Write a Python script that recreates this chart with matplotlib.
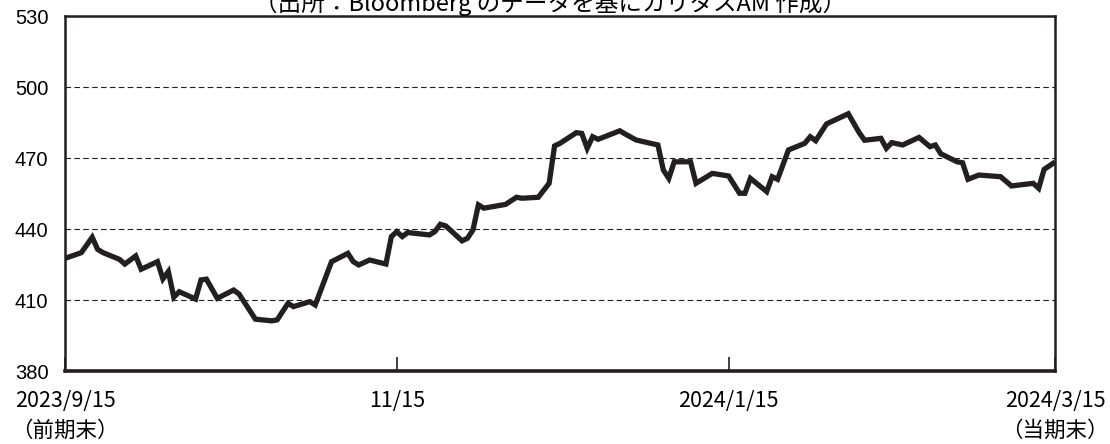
from datetime import date

import matplotlib
matplotlib.use("Agg")
from matplotlib import pyplot as plt

# values (date, index level)
dates = [
    "2023-09-15", "2023-09-18", "2023-09-20", "2023-09-21", "2023-09-22",
    "2023-09-25", "2023-09-26", "2023-09-28", "2023-09-29", "2023-10-02",
    "2023-10-03", "2023-10-04", "2023-10-05", "2023-10-06", "2023-10-09",
    "2023-10-10", "2023-10-11", "2023-10-13", "2023-10-16", "2023-10-17",
    "2023-10-20", "2023-10-23", "2023-10-24", "2023-10-26", "2023-10-27",
    "2023-10-30", "2023-10-31", "2023-11-03", "2023-11-06", "2023-11-07",
    "2023-11-08", "2023-11-10", "2023-11-13", "2023-11-14", "2023-11-15",
    "2023-11-16", "2023-11-17", "2023-11-21", "2023-11-22", "2023-11-23",
    "2023-11-24", "2023-11-27", "2023-11-28", "2023-11-29", "2023-11-30",
    "2023-12-01", "2023-12-05", "2023-12-07", "2023-12-08", "2023-12-11",
    "2023-12-13", "2023-12-14", "2023-12-15", "2023-12-18", "2023-12-19",
    "2023-12-20", "2023-12-21", "2023-12-22", "2023-12-26", "2023-12-27",
    "2023-12-29", "2024-01-02", "2024-01-03", "2024-01-04", "2024-01-05",
    "2024-01-08", "2024-01-09", "2024-01-12", "2024-01-15", "2024-01-17",
    "2024-01-18", "2024-01-19", "2024-01-22", "2024-01-23", "2024-01-24",
    "2024-01-26", "2024-01-29", "2024-01-30", "2024-01-31", "2024-02-02",
    "2024-02-06", "2024-02-08", "2024-02-09", "2024-02-12", "2024-02-13",
    "2024-02-14", "2024-02-16", "2024-02-19", "2024-02-21", "2024-02-22",
    "2024-02-23", "2024-02-26", "2024-02-27", "2024-02-28", "2024-03-01",
    "2024-03-05", "2024-03-07", "2024-03-11", "2024-03-12", "2024-03-13",
    "2024-03-15",
]
values = [
    427.6, 430.0, 436.5, 431.4, 430.0,
    427.2, 425.2, 428.6, 423.0, 426.2,
    418.9, 422.0, 411.2, 413.5, 410.4,
    418.5, 418.8, 410.7, 414.2, 412.5,
    401.9, 401.2, 401.6, 408.6, 407.2,
    409.3, 407.9, 426.2, 429.7, 426.2,
    424.8, 426.9, 425.2, 436.8, 438.9,
    436.8, 438.5, 437.5, 438.9, 442.0,
    441.3, 435.0, 436.1, 439.6, 450.2,
    448.8, 450.4, 453.4, 453.0, 453.4,
    459.3, 475.1, 476.2, 480.7, 480.4,
    474.1, 479.0, 477.9, 481.5, 480.1,
    477.6, 475.5, 464.9, 461.4, 468.4,
    468.4, 459.3, 463.5, 462.4, 455.1,
    455.1, 461.4, 455.8, 462.1, 461.0,
    473.4, 476.2, 479.0, 477.3, 484.4,
    488.7, 480.7, 477.5, 478.3, 474.1,
    476.5, 475.5, 478.7, 474.8, 475.5,
    471.8, 468.4, 468.0, 461.0, 462.8,
    462.1, 458.2, 459.3, 457.2, 465.2,
    468.3,
]

tick_dates = ["2023-09-15", "2023-11-15", "2024-01-15", "2024-03-15"]
tick_labels = ["2023/9/15\n（前期末）", "11/15", "2024/1/15", "2024/3/15\n（当期末）"]
y_ticks = [380, 410, 440, 470, 500, 530]
title = "（出所：Bloomberg のデータを基にカリタスAM 作成）"

jp = ["Noto Sans CJK JP", "DejaVu Sans"]

x = [date.fromisoformat(d) for d in dates]
xt = [date.fromisoformat(d) for d in tick_dates]

fig = plt.figure(figsize=(11.1, 4.44), dpi=100)
ax = fig.add_axes([65 / 1110, 1 - 371 / 444, 990 / 1110, 355 / 444])

ax.plot(x, values, color="#231f20", linewidth=3.8, solid_joinstyle="miter",
        solid_capstyle="butt", zorder=3)

ax.set_xlim(xt[0], xt[-1])
ax.set_ylim(y_ticks[0], y_ticks[-1])
ax.set_yticks(y_ticks)
for v in y_ticks[1:-1]:
    ax.axhline(v, color="#231f20", linewidth=0.8, linestyle=(0, (5, 3)), zorder=1)

ax.tick_params(axis="y", length=0, pad=12, labelsize=14.5)
for lab in ax.get_yticklabels():
    lab.set_fontfamily("Liberation Sans")

ax.set_xticks(xt)
ax.set_xticklabels(tick_labels, family=jp, fontsize=15.5, linespacing=1.45)
ax.tick_params(axis="x", direction="in", length=10, width=1.2, pad=14,
               color="#231f20")

for s in ax.spines.values():
    s.set_linewidth(1.8)
    s.set_color("#231f20")
ax.spines["bottom"].set_linewidth(2.6)

fig.text(0.496, 1 - 11 / 444, title, ha="center", va="baseline", fontsize=17,
         family=jp)

fig.savefig("out.png", dpi=100)
